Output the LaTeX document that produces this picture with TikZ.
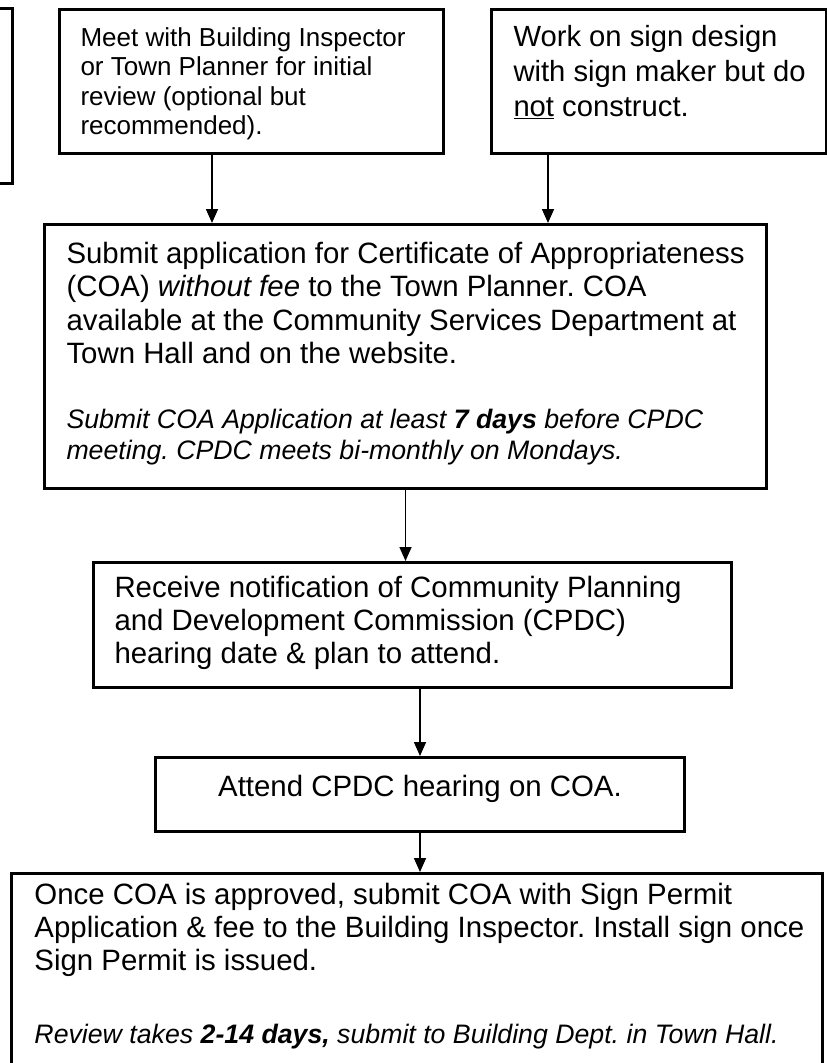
\documentclass[tikz,border=0pt]{standalone}
\usepackage{fontspec}
\setmainfont{Liberation Sans}
\usetikzlibrary{arrows.meta}
\frenchspacing
% #1 left pad, #2 text width, #3 box height, #4 first baseline from top, #5 font size, #6 baselineskip, #7 text
\newcommand{\bx}[7]{\hspace*{#1}\parbox[c][#3][t]{#2}{\fontsize{#5}{#6}\selectfont\frenchspacing\raggedright\vspace*{\dimexpr#4-#6*7/10\relax}\strut#7}}
\tikzset{
  box/.style={draw=black, line width=3pt, fill=white, inner sep=0pt, anchor=north west},
  arr/.style={line width=1.6pt, -{Triangle[length=14pt,width=12pt]}}
}
\begin{document}
\begin{tikzpicture}[x=1pt,y=-1pt]
\useasboundingbox (0,0) rectangle (827,1063);
\clip (0,0) rectangle (827,1063);
\fill[white] (0,0) rectangle (827,1063);

\node[box, minimum width=71pt, minimum height=175pt] (l) at (-60,7) {};

\node[box] (a) at (58,7.5) {\bx{21pt}{363pt}{144pt}{37.5pt}{26pt}{29.3pt}{Meet with Building Inspector\\ or Town Planner for initial\\ review (optional but\\ recommended).}};

\node[box] (b) at (490,7.5) {\bx{22pt}{313pt}{144pt}{37.5pt}{29.2pt}{35pt}{Work on sign design\\ with sign maker but do\\ \underline{not} construct.}};

\node[box] (c) at (43,223) {\bx{22pt}{700pt}{264pt}{39pt}{29.4pt}{33.3pt}{Submit application for Certificate of Appropriateness\\ (COA) \textit{without fee} to the Town Planner. COA\\ available at the Community Services Department at\\ Town Hall and on the website.\par\vspace{34pt}\fontsize{26.7pt}{31pt}\selectfont\itshape Submit COA Application at least \textbf{7 days} before CPDC\\ meeting. CPDC meets bi-monthly on Mondays.}};

\node[box] (d) at (92,561) {\bx{21pt}{617pt}{125pt}{35pt}{29.4pt}{33pt}{Receive notification of Community Planning\\ and Development Commission (CPDC)\\ hearing date \& plan to attend.}};

\node[box] (e) at (154,756) {\bx{0pt}{529pt}{74pt}{38.5pt}{29.4pt}{33pt}{\centering Attend CPDC hearing on COA.}};

\node[box] (f) at (10,872) {\bx{23pt}{788pt}{220pt}{31pt}{29.4pt}{33pt}{Once COA is approved, submit COA with Sign Permit\\ Application \& fee to the Building Inspector. Install sign once\\ Sign Permit is issued.\par\vspace{42pt}\fontsize{26.7pt}{31pt}\selectfont\itshape Review takes \textbf{2-14 days,} submit to Building Dept. in Town Hall.}};

\draw[arr] (212,0 |- a.south) -- (212,0 |- c.north);
\draw[arr] (548,0 |- b.south) -- (548,0 |- c.north);
\draw[arr] (c.south) -- (c.south |- d.north);
\draw[arr] (e.north |- d.south) -- (e.north);
\draw[arr] (e.south) -- (e.south |- f.north);
\end{tikzpicture}
\end{document}
